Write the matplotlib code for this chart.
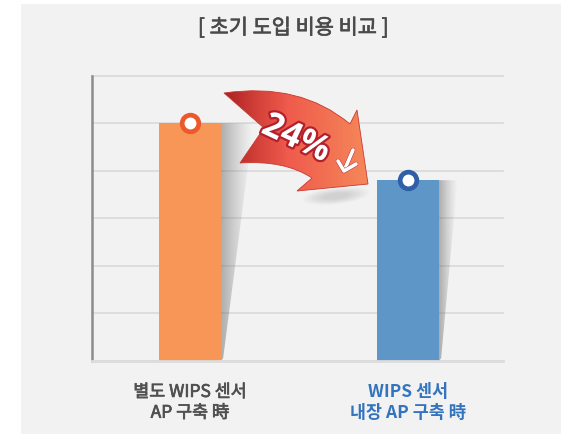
import numpy as np
import matplotlib
matplotlib.use("Agg")
import matplotlib.pyplot as plt
from matplotlib.path import Path
from matplotlib.patches import PathPatch, Polygon, Rectangle, Ellipse
from matplotlib.colors import LinearSegmentedColormap
import matplotlib.patheffects as pe

plt.rcParams["font.family"] = ["Noto Sans CJK KR", "DejaVu Sans"]

# ---- data
TITLE = "[ 초기 도입 비용 비교 ]"
categories = ["별도 WIPS 센서\nAP 구축 時", "WIPS 센서\n내장 AP 구축 時"]
values = [5.0, 3.8]
reduction = "24%"
bar_colors = ["#f79656", "#5f96c8"]
ring_colors = ["#ec5a2c", "#2f5fa6"]
label_colors = ["#505050", "#3474be"]
label_weights = ["normal", "bold"]
shadow_w = [0.15, 0.085]

W, H = 571, 434
fig = plt.figure(figsize=(W / 100, H / 100), dpi=100)
fig.patch.set_facecolor("white")

# background panel (pixel coords)
bg = fig.add_axes([0, 0, 1, 1], zorder=0)
bg.set_xlim(0, W); bg.set_ylim(H, 0); bg.axis("off")
bg.add_patch(Rectangle((21, 4), 540, 430, color="#f2f2f2", lw=0))
bg.text(293, 28, TITLE, ha="center", va="center", fontsize=15,
        color="#4a4a4a",
        path_effects=[pe.withStroke(linewidth=0.5, foreground="#4a4a4a")])

# ---- main chart
ax = fig.add_axes([92 / W, (H - 360.7) / H, (503 - 92) / W, (360.7 - 75.7) / H],
                  zorder=1)
ax.set_facecolor("none")
x = np.arange(len(values))
bw = 0.284
ax.set_xlim(-0.4495, 1.4358)
ax.set_ylim(0, 6)
ax.set_yticks(range(0, 7))
ax.yaxis.grid(True, color="#d9d9d9", lw=1.2, clip_on=False)
ax.set_axisbelow(True)
ax.tick_params(length=0, labelleft=False)
for s in ["top", "right"]:
    ax.spines[s].set_visible(False)
ax.spines["left"].set_color("#8c8c8c"); ax.spines["left"].set_linewidth(1.8)
ax.spines["bottom"].set_color("#dcdcdc"); ax.spines["bottom"].set_linewidth(2)

# shadows (gradient wedges behind the bars' right side)
grad = np.zeros((2, 64, 4))
grad[..., :3] = 0.42
grad[..., 3] = np.linspace(0.6, 0.0, 64)[None, :] ** 1.3
for xi, v, sw in zip(x, values, shadow_w):
    xr = xi + bw / 2
    poly = Polygon([(xr, v), (xr + sw, v), (xr + 0.01, 0.05), (xr, 0)],
                   closed=True, fc="none", ec="none")
    ax.add_patch(poly)
    im = ax.imshow(grad, extent=(xr, xr + sw, 0, v), aspect="auto",
                   interpolation="bilinear", zorder=1.5)
    im.set_clip_path(poly)

ax.bar(x, values, width=bw, color=bar_colors, zorder=2)
for xi, v, rc in zip(x, values, ring_colors):
    ax.plot(xi, v, "o", ms=12, mfc="white", mec=rc, mew=3.4, zorder=4,
            clip_on=False)

ax.set_xticks(x)
ax.set_xticklabels(categories, fontsize=12.5, linespacing=1.2)
ax.tick_params(axis="x", pad=16)
for lab, c, w in zip(ax.get_xticklabels(), label_colors, label_weights):
    lab.set_color(c); lab.set_fontweight(w)
ax.get_xticklabels()[0].set_path_effects(
    [pe.withStroke(linewidth=0.5, foreground=label_colors[0])])

# ---- curved reduction arrow (pixel coords overlay)
ov = fig.add_axes([0, 0, 1, 1], zorder=3)
ov.set_xlim(0, W); ov.set_ylim(H, 0); ov.axis("off")
ov.patch.set_alpha(0)

verts = [(224, 93), (300, 82), (350, 124),     # top edge
         (357, 110), (368, 184), (297, 191),   # head
         (312, 178), (285, 160), (240, 163),   # bottom edge
         (264, 128), (224, 93)]                # tail notch
codes = [Path.MOVETO, Path.CURVE3, Path.CURVE3,
         Path.LINETO, Path.LINETO, Path.LINETO,
         Path.LINETO, Path.CURVE3, Path.CURVE3,
         Path.LINETO, Path.CLOSEPOLY]

# soft shadow under the head
for k in range(6):
    ov.add_patch(Ellipse((336, 196), 66 - 8 * k, 16 - 2 * k, angle=-6,
                         fc="#6e6e6e", ec="none", alpha=0.045))

arrow = PathPatch(Path(verts, codes), fc="none", ec="#c8392f", lw=0.6)
ov.add_patch(arrow)
cmap = LinearSegmentedColormap.from_list(
    "arr", [(0, "#a81d22"), (0.25, "#d5423a"), (0.45, "#ef5b4c"),
            (1, "#f5895a")])
g = np.linspace(0, 1, 256)[None, :]
im = ov.imshow(g, cmap=cmap, extent=(222, 370, 195, 80), aspect="auto",
               interpolation="bilinear")
im.set_clip_path(arrow)

stroke = [pe.withStroke(linewidth=3.2, foreground="#b3202c")]
ov.text(296, 139, reduction, rotation=-25, ha="center", va="center",
        fontsize=25, fontweight="bold", color="white",
        family=["Open Sans", "DejaVu Sans"], path_effects=stroke)
# small down-arrow glyph after the percentage
for seg in [[(353, 150), (344, 171)], [(338, 161), (344, 171), (356, 164)]]:
    sx, sy = zip(*seg)
    ov.plot(sx, sy, color="white", lw=2.6, solid_capstyle="round",
            solid_joinstyle="round", path_effects=stroke)

fig.savefig("out.png", dpi=100, facecolor="white")
